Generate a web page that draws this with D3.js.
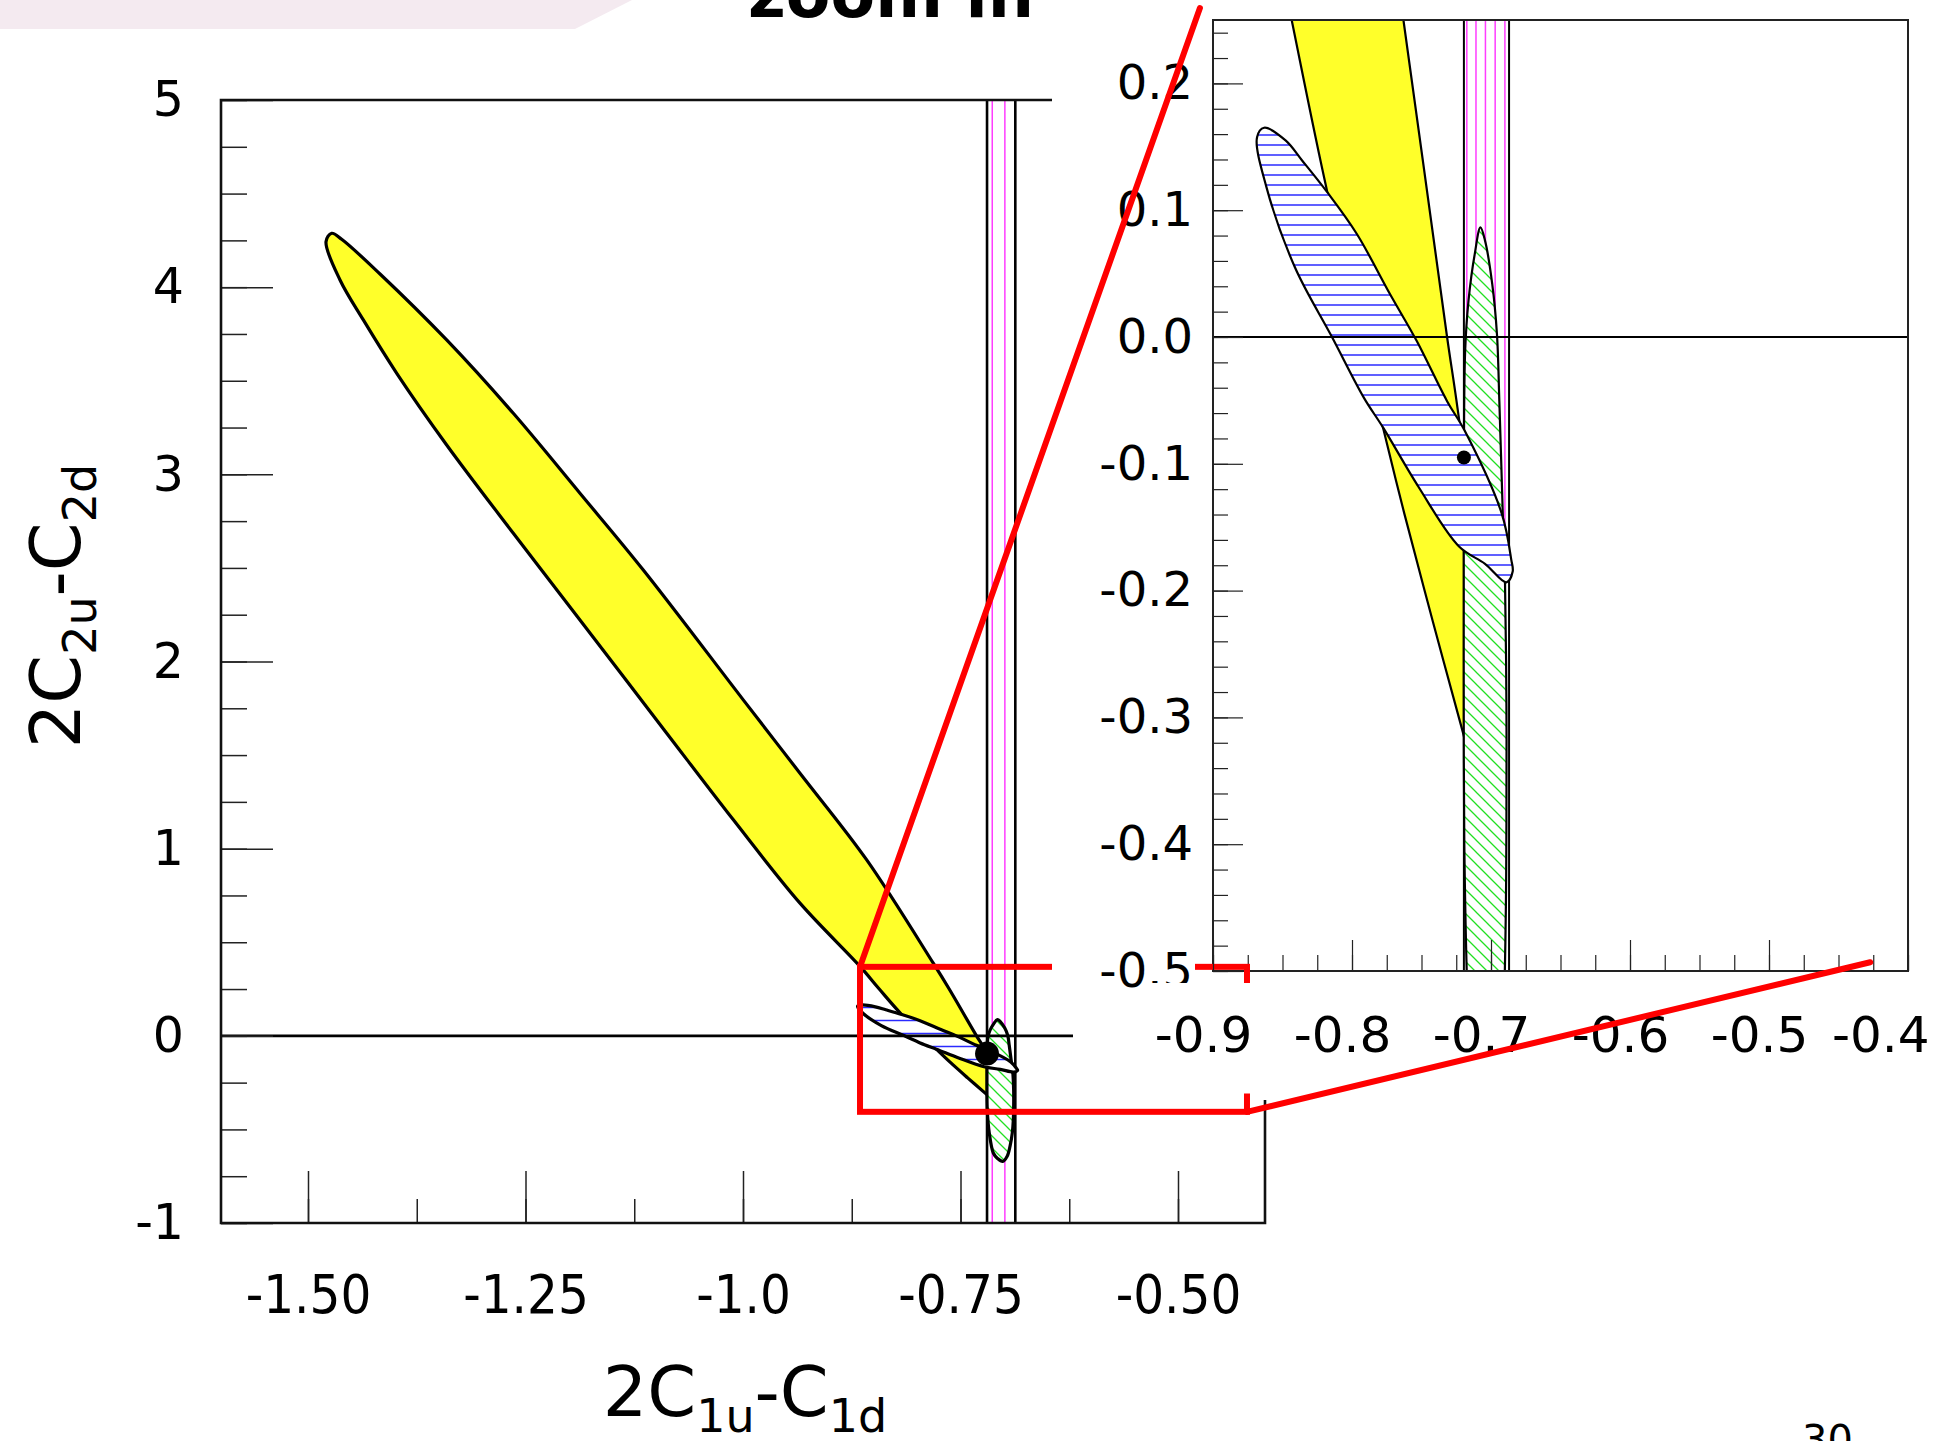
<!DOCTYPE html>
<html>
<head>
<meta charset="utf-8">
<script src="https://cdn.jsdelivr.net/npm/d3@7"></script>
<style>
	body { margin: 0; background: #fff; }
	svg { display: block; }
</style>
</head>
<body>
<div id="chart-area"></div>
<script>
// tick values and labels
var mainXTicks = [-1.5, -1.25, -1.0, -0.75, -0.5];
var mainXLabels = ['-1.50', '-1.25', '-1.0', '-0.75', '-0.50'];
var mainYTicks = [5, 4, 3, 2, 1, 0, -1];
var mainYLabels = ['5', '4', '3', '2', '1', '0', '-1'];
var zoomXTicks = [-0.9, -0.8, -0.7, -0.6, -0.5, -0.4];
var zoomXLabels = ['-0.9', '-0.8', '-0.7', '-0.6', '-0.5', '-0.4'];
var zoomYTicks = [0.2, 0.1, 0.0, -0.1, -0.2, -0.3, -0.4, -0.5];
var zoomYLabels = ['0.2', '0.1', '0.0', '-0.1', '-0.2', '-0.3', '-0.4', '-0.5'];

// constraint bands (x = 2C1u-C1d)
var blackLines = [-0.7195, -0.687];
var magentaMain = [-0.7135, -0.699];
var magentaZoom = [-0.7174, -0.7108, -0.704, -0.697, -0.690];

// best fit point
var bestFit = [-0.7195, -0.095];

// contours, [2C1u-C1d, 2C2u-C2d]
var yellowContour = [
	[-1.4728, 4.288], [-1.4613, 4.256], [-1.4172, 4.0705], [-1.3406, 3.718], [-1.264, 3.326],
	[-1.1874, 2.899], [-1.1146, 2.489], [-0.9997, 1.795], [-0.9345, 1.403], [-0.8578, 0.940],
	[-0.7813, 0.388], [-0.763, 0.25], [-0.7316, 0.0], [-0.7248, -0.0506], [-0.713, -0.15],
	[-0.706, -0.26], [-0.705, -0.33], [-0.712, -0.345], [-0.7203, -0.3114], [-0.7418, -0.2245],
	[-0.7623, -0.1395], [-0.7777, -0.0713], [-0.8177, 0.114], [-0.8434, 0.25], [-0.8655, 0.371],
	[-0.9345, 0.709], [-1.0111, 1.154], [-1.0877, 1.617], [-1.1874, 2.222], [-1.264, 2.685],
	[-1.3406, 3.157], [-1.398, 3.54], [-1.4364, 3.825], [-1.4632, 4.0385], [-1.4793, 4.243]
];
var blueContour = [
	[-0.8632, 0.165], [-0.8478, 0.155], [-0.8359, 0.1392], [-0.8177, 0.114], [-0.7965, 0.0812],
	[-0.7726, 0.0337], [-0.7535, -0.003], [-0.7316, -0.0506], [-0.7189, -0.0740],
	[-0.6922, -0.1395], [-0.6854, -0.1758], [-0.6844, -0.185], [-0.6889, -0.1935],
	[-0.7043, -0.1789], [-0.723, -0.1652], [-0.7521, -0.1183], [-0.7777, -0.0713],
	[-0.7914, -0.048], [-0.8144, 0.0], [-0.841, 0.0548], [-0.8615, 0.118], [-0.8683, 0.1576]
];
var greenContour = [
	[-0.7076, 0.0864], [-0.7043, 0.076], [-0.6991, 0.0417], [-0.6957, 0.002], [-0.694, -0.0506],
	[-0.6915, -0.14], [-0.6899, -0.195], [-0.6889, -0.291], [-0.6889, -0.383], [-0.6893, -0.45],
	[-0.6905, -0.52], [-0.6931, -0.591], [-0.6965, -0.645], [-0.7015, -0.671], [-0.7075, -0.655],
	[-0.7123, -0.626], [-0.7169, -0.52], [-0.7192, -0.4], [-0.7196, -0.3], [-0.7196, -0.2],
	[-0.7195, -0.1], [-0.7186, -0.011], [-0.7162, 0.0285], [-0.7117, 0.0654]
];

// zoom annotation: box in main coords, line ends in zoom coords
var zoomBox = { x0: -0.8655, x1: -0.4207, y0: -0.406, y1: 0.3686 };
var zoomLineEnds = [[-0.9094, 0.2594], [-0.4272, -0.4931]];

var width = 1945;
var height = 1441;
var roundFont = "'DejaVu Sans', 'Noto Sans', sans-serif";

var svg = d3.select('#chart-area')
	.append('svg')
	.attr('width', width)
	.attr('height', height);

var defs = svg.append('defs');

function hLines(id, step, color) {
	var p = defs.append('pattern').attr('id', id)
		.attr('patternUnits', 'userSpaceOnUse')
		.attr('width', 20).attr('height', step);
	p.append('rect').attr('width', 20).attr('height', step).attr('fill', '#fff');
	p.append('line').attr('x1', 0).attr('x2', 20)
		.attr('y1', step / 2).attr('y2', step / 2)
		.attr('stroke', color).attr('stroke-width', 1.5);
}
hLines('blueMain', 13, '#2a2aff');
hLines('blueZoom', 10, '#2a2aff');

var gp = defs.append('pattern').attr('id', 'greenHatch')
	.attr('patternUnits', 'userSpaceOnUse')
	.attr('width', 12).attr('height', 12);
gp.append('rect').attr('width', 12).attr('height', 12).attr('fill', '#fff');
gp.append('path').attr('d', 'M0,0 L12,12 M-6,6 L6,18 M6,-6 L18,6')
	.attr('stroke', '#22e022').attr('stroke-width', 1.3);

// top banner and heading
svg.append('path').attr('d', 'M0,0 L632,0 L575,29 L0,29 Z').attr('fill', '#f4eaf0');
svg.append('text')
	.attr('x', 748).attr('y', 17)
	.style('font-family', roundFont).style('font-weight', 'bold').style('font-size', '65px')
	.text('zoom in');

var contourLine = d3.line().curve(d3.curveCatmullRomClosed.alpha(0.5));

function drawRegions(g, sx, sy, o) {
	var pts = c => contourLine(c.map(p => [sx(p[0]), sy(p[1])]));
	var top = sy.range()[1], bottom = sy.range()[0];

	g.append('path').attr('d', pts(yellowContour))
		.attr('fill', '#ffff2a').attr('stroke', '#000').attr('stroke-width', o.lw)
		.attr('stroke-linejoin', 'round');

	g.selectAll('.mag').data(o.magenta).enter().append('line')
		.attr('x1', d => sx(d)).attr('x2', d => sx(d))
		.attr('y1', top).attr('y2', bottom)
		.attr('stroke', '#ff3cff').attr('stroke-width', 1.5);

	g.selectAll('.vline').data(blackLines).enter().append('line')
		.attr('x1', d => sx(d)).attr('x2', d => sx(d))
		.attr('y1', top).attr('y2', bottom)
		.attr('stroke', '#000').attr('stroke-width', o.vw);

	g.append('path').attr('d', pts(greenContour))
		.attr('fill', 'url(#greenHatch)').attr('stroke', '#000').attr('stroke-width', o.lw);

	g.append('path').attr('d', pts(blueContour))
		.attr('fill', 'url(#' + o.blue + ')').attr('stroke', '#000').attr('stroke-width', o.lw);

	g.append('line')
		.attr('x1', sx.range()[0]).attr('x2', sx.range()[1])
		.attr('y1', sy(0)).attr('y2', sy(0))
		.attr('stroke', '#000').attr('stroke-width', o.vw);

	g.append('circle')
		.attr('cx', sx(bestFit[0])).attr('cy', sy(bestFit[1]))
		.attr('r', o.dot).attr('fill', '#000');
}

// ---------- main plot ----------
var mainBox = { left: 221, right: 1265, top: 100, bottom: 1223 };
var x = d3.scaleLinear().domain([-1.6, -0.4]).range([mainBox.left, mainBox.right]);
var y = d3.scaleLinear().domain([-1, 5]).range([mainBox.bottom, mainBox.top]);

defs.append('clipPath').attr('id', 'clipMain').append('rect')
	.attr('x', mainBox.left).attr('y', mainBox.top)
	.attr('width', mainBox.right - mainBox.left).attr('height', mainBox.bottom - mainBox.top);

var gMain = svg.append('g').attr('clip-path', 'url(#clipMain)');
drawRegions(gMain, x, y, { lw: 3.2, vw: 2.6, blue: 'blueMain', dot: 12, magenta: magentaMain });

function styleAxis(g, font, size, stretch) {
	g.select('.domain').remove();
	g.selectAll('.tick line').attr('stroke', '#222').attr('stroke-width', 1.5);
	g.selectAll('text').attr('fill', '#000')
		.style('font-family', font).style('font-size', size + 'px')
		.style('font-stretch', stretch || 'normal');
}

svg.append('g')
	.attr('transform', 'translate(' + mainBox.left + ',0)')
	.call(d3.axisLeft(y).tickValues(d3.range(-1, 5.001, 0.25)).tickSize(-26).tickFormat(''))
	.call(g => styleAxis(g, roundFont, 49));

svg.append('g')
	.attr('transform', 'translate(' + mainBox.left + ',0)')
	.call(d3.axisLeft(y).tickValues(mainYTicks).tickSize(-52).tickPadding(37)
		.tickFormat((d, i) => mainYLabels[i]))
	.call(g => styleAxis(g, roundFont, 49));

svg.append('g')
	.attr('transform', 'translate(0,' + mainBox.bottom + ')')
	.call(d3.axisBottom(x).tickValues(d3.range(-1.5, -0.45, 0.125)).tickSize(-24).tickFormat(''))
	.call(g => styleAxis(g, roundFont, 54));

svg.append('g')
	.attr('transform', 'translate(0,' + mainBox.bottom + ')')
	.call(d3.axisBottom(x).tickValues(mainXTicks).tickSize(-52).tickPadding(52)
		.tickFormat((d, i) => mainXLabels[i]))
	.call(g => styleAxis(g, roundFont, 54, 'condensed'));

// frame
var frame = svg.append('g').attr('stroke', '#111').attr('stroke-width', 2.6).attr('fill', 'none');
frame.append('path').attr('d', 'M1052,' + mainBox.top + ' H' + mainBox.left + ' V' + mainBox.bottom + ' H' + mainBox.right + ' V1100');

// inset covers the upper right of the main plot
svg.append('rect').attr('x', 1052).attr('y', 0).attr('width', width - 1052).attr('height', 1000).attr('fill', '#fff');
svg.append('rect').attr('x', 1073).attr('y', 1000).attr('width', width - 1073).attr('height', 100).attr('fill', '#fff');

// ---------- zoomed plot ----------
var zBox = { left: 1213, right: 1908, top: 20, bottom: 971 };
var xz = d3.scaleLinear().domain([-0.9, -0.4]).range([zBox.left, zBox.right]);
var yz = d3.scaleLinear().domain([-0.5, 0.25]).range([zBox.bottom, zBox.top]);

defs.append('clipPath').attr('id', 'clipZoom').append('rect')
	.attr('x', zBox.left).attr('y', zBox.top)
	.attr('width', zBox.right - zBox.left).attr('height', zBox.bottom - zBox.top);

var gZoom = svg.append('g').attr('clip-path', 'url(#clipZoom)');
gZoom.append('rect').attr('x', zBox.left).attr('y', zBox.top)
	.attr('width', zBox.right - zBox.left).attr('height', zBox.bottom - zBox.top).attr('fill', '#fff');
drawRegions(gZoom, xz, yz, { lw: 2.2, vw: 2, blue: 'blueZoom', dot: 7, magenta: magentaZoom });

var zAxes = svg.append('g');
zAxes.append('g')
	.attr('transform', 'translate(' + zBox.left + ',0)')
	.call(d3.axisLeft(yz).tickValues(d3.range(-0.5, 0.2501, 0.02)).tickSize(-15).tickFormat(''))
	.call(g => styleAxis(g, roundFont, 48));
zAxes.append('g')
	.attr('transform', 'translate(0,' + zBox.bottom + ')')
	.call(d3.axisBottom(xz).tickValues(d3.range(-0.9, -0.399, 0.025)).tickSize(-16).tickFormat(''))
	.call(g => styleAxis(g, roundFont, 48));
zAxes.selectAll('.tick line').attr('stroke-width', 1.2);

svg.append('rect').attr('x', zBox.left).attr('y', zBox.top)
	.attr('width', zBox.right - zBox.left).attr('height', zBox.bottom - zBox.top)
	.attr('fill', 'none').attr('stroke', '#222').attr('stroke-width', 2);

// red zoom box
svg.append('rect')
	.attr('x', x(zoomBox.x0)).attr('y', y(zoomBox.y1))
	.attr('width', x(zoomBox.x1) - x(zoomBox.x0)).attr('height', y(zoomBox.y0) - y(zoomBox.y1))
	.attr('fill', 'none').attr('stroke', '#ff0000').attr('stroke-width', 6);

// labelled ticks of the zoomed plot (labels sit on white)
var zy = svg.append('g')
	.attr('transform', 'translate(' + zBox.left + ',0)')
	.call(d3.axisLeft(yz).tickValues(zoomYTicks).tickSize(-30).tickPadding(20)
		.tickFormat((d, i) => zoomYLabels[i]))
	.call(g => styleAxis(g, roundFont, 48));
zy.selectAll('.tick line').attr('stroke-width', 1.2);
zy.selectAll('.tick').each(function() {
	var t = d3.select(this).select('text');
	var b = t.node().getBBox();
	d3.select(this).insert('rect', 'text')
		.attr('x', 1052 - zBox.left).attr('y', b.y - 2)
		.attr('width', b.x + b.width + 2 - (1052 - zBox.left)).attr('height', b.height + 4)
		.attr('fill', '#fff');
});

var zx = svg.append('g')
	.attr('transform', 'translate(0,' + zBox.bottom + ')')
	.call(d3.axisBottom(xz).tickValues(zoomXTicks).tickSize(-31).tickPadding(45)
		.tickFormat((d, i) => zoomXLabels[i]))
	.call(g => styleAxis(g, roundFont, 50));
zx.selectAll('.tick line').attr('stroke-width', 1.2);
zx.selectAll('.tick').each(function(d) {
	var t = d3.select(this).select('text');
	var b = t.node().getBBox();
	// labels sit a little left of their ticks; keep the last one on the page
	var shift = -10;
	var over = xz(d) + b.x + b.width + shift - (width - 16);
	if (over > 0) shift -= over;
	t.attr('dx', shift);
	d3.select(this).insert('rect', 'text')
		.attr('x', b.x + shift - 4).attr('y', 12)
		.attr('width', b.width + 8).attr('height', b.y + b.height + 30 - 12)
		.attr('fill', '#fff');
});

// red connector lines
var reds = svg.append('g').attr('stroke', '#ff0000').attr('stroke-width', 6).attr('stroke-linecap', 'round');
reds.append('line')
	.attr('x1', x(zoomBox.x0)).attr('y1', y(zoomBox.y1))
	.attr('x2', xz(zoomLineEnds[0][0])).attr('y2', yz(zoomLineEnds[0][1]));
reds.append('line')
	.attr('x1', x(zoomBox.x1)).attr('y1', y(zoomBox.y0))
	.attr('x2', xz(zoomLineEnds[1][0])).attr('y2', yz(zoomLineEnds[1][1]));

// axis titles
function title(g, a, sa, b, sb) {
	g.style('font-family', roundFont).style('font-size', '70px').attr('text-anchor', 'middle');
	g.append('tspan').text(a);
	g.append('tspan').attr('dy', 16).style('font-size', '46px').text(sa);
	g.append('tspan').attr('dy', -16).text(b);
	g.append('tspan').attr('dy', 16).style('font-size', '46px').text(sb);
}
title(svg.append('text').attr('x', 745).attr('y', 1416), '2C', '1u', '-C', '1d');
title(svg.append('text').attr('transform', 'translate(80,606) rotate(-90)'), '2C', '2u', '-C', '2d');

// page number
svg.append('text').attr('x', 1802).attr('y', 1454)
	.style('font-family', roundFont).style('font-size', '40px').text('30');
</script>
</body>
</html>
